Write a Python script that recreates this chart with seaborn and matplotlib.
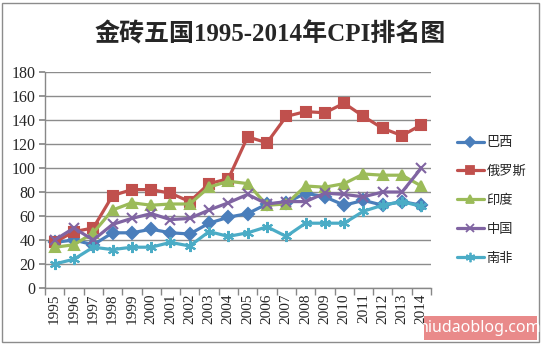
import matplotlib
matplotlib.use("Agg")
import matplotlib.pyplot as plt
import seaborn as sns
import pandas as pd
from matplotlib.patches import Rectangle
from matplotlib.lines import Line2D

years = list(range(1995, 2015))
countries = ["巴西", "俄罗斯", "印度", "中国", "南非"]
brazil = [38, 40, 36, 46, 46, 49, 46, 45, 54, 59, 62, 70, 71, 79, 76, 69, 73, 69, 72, 69]
russia = [38, 47, 50, 77, 82, 82, 79, 72, 87, 91, 126, 121, 143, 147, 146, 154, 143, 133, 127, 136]
india = [34, 36, 46, 65, 71, 69, 70, 70, 84, 89, 87, 69, 70, 85, 84, 87, 95, 94, 94, 85]
china = [40, 50, 40, 53, 58, 62, 57, 58, 65, 71, 78, 70, 72, 72, 79, 78, 76, 80, 80, 100]
safrica = [20, 24, 34, 32, 34, 34, 38, 35, 47, 43, 46, 51, 43, 54, 54, 54, 64, 69, 72, 68]
yticks = list(range(0, 181, 20))

series = [brazil, russia, india, china, safrica]
df = pd.DataFrame({
    "year": years * len(countries),
    "country": [c for c in countries for _ in years],
    "cpi": [v for s in series for v in s],
})

sns.set_theme(style="white")
plt.rcParams["font.family"] = ["Liberation Serif", "Noto Sans CJK SC", "DejaVu Sans"]

palette = {"巴西": "#4A7EBB", "俄罗斯": "#C0504D", "印度": "#9BBB59",
           "中国": "#8064A2", "南非": "#4BACC6"}
markers = {"巴西": "D", "俄罗斯": "s", "印度": "^", "中国": "x", "南非": (6, 2, 0)}
msizes = {"巴西": 6, "俄罗斯": 7, "印度": 7.5, "中国": 7, "南非": 8}

fig = plt.figure(figsize=(5.41, 3.45), dpi=100)
fig.patch.set_facecolor("white")
ax = fig.add_axes([45 / 541, 57 / 345, 386 / 541, 216 / 345])

for c in countries:
    sub = df[df["country"] == c]
    sns.lineplot(data=sub, x="year", y="cpi", color=palette[c], marker=markers[c],
                 markersize=msizes[c], markeredgewidth=1.5, markeredgecolor=palette[c],
                 linewidth=2.3, ax=ax, legend=False)

ax.set_xlim(1994.5, 2014.5)
ax.set_ylim(0, 180)
ax.set_yticks(yticks)
ax.set_yticklabels([str(t) for t in yticks], fontsize=11.5, family="Liberation Serif")
ax.set_xticks(years)
ax.set_xticklabels([str(y) for y in years], rotation=90, fontsize=11,
                   family="Liberation Serif")
ax.set_xticks([y + 0.5 for y in [1994] + years], minor=True)
ax.tick_params(axis="x", which="major", length=0, pad=4)
ax.tick_params(axis="x", which="minor", length=5, color="#888888", direction="out", bottom=True)
ax.tick_params(axis="y", length=4, color="#888888", direction="out", left=True, pad=3)
ax.set_xlabel("")
ax.set_ylabel("")
ax.grid(axis="y", color="#8c8c8c", linewidth=1.0)
ax.grid(axis="x", visible=False)
ax.set_axisbelow(True)
for s in ["top", "right"]:
    ax.spines[s].set_visible(False)
for s in ["left", "bottom"]:
    ax.spines[s].set_color("#888888")
    ax.spines[s].set_linewidth(1.0)

handles = [Line2D([0], [0], color=palette[c], marker=markers[c], linewidth=2.3,
                  markersize=msizes[c] * 0.85, markeredgewidth=1.3, markeredgecolor=palette[c])
           for c in countries]
leg = fig.legend(handles, countries, loc="upper left", bbox_to_anchor=(452 / 541, 1 - 131 / 345),
                 frameon=False, prop={"family": "Noto Sans CJK SC", "size": 9.5},
                 handlelength=2.0, handletextpad=0.2, labelspacing=1.2, borderaxespad=0)

fig.text(270 / 541, 1 - 34 / 345, "金砖五国1995-2014年CPI排名图", ha="center", va="center",
         fontsize=18, fontweight="bold",
         family=["Liberation Serif", "Noto Sans CJK SC"])

fig.patches.append(Rectangle((424 / 541, 5 / 345), 113 / 541, 24 / 345,
                             transform=fig.transFigure, facecolor="#E98A8A",
                             edgecolor="none", zorder=5))
fig.text(480 / 541, 17 / 345, "niudaoblog.com", ha="center", va="center",
         fontsize=11.5, fontweight="bold", color="white", family="Noto Sans", zorder=6)

fig.patches.append(Rectangle((1.5 / 541, 3.5 / 345), 537 / 541, 339 / 345,
                             transform=fig.transFigure, facecolor="none",
                             edgecolor="#8c8c8c", linewidth=1.0, zorder=1))

fig.savefig("out.png", dpi=100, facecolor="white")
